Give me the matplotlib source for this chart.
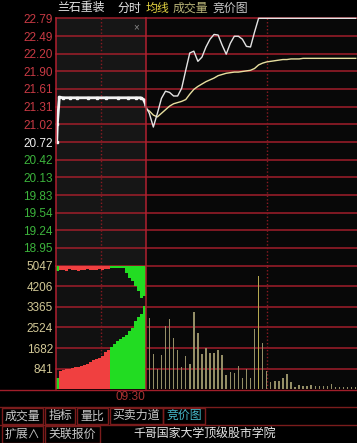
import matplotlib
matplotlib.use('Agg')
import matplotlib.pyplot as plt
from matplotlib.patches import Rectangle
from matplotlib.lines import Line2D

W, H = 357, 443
CJK = ['Noto Sans CJK SC', 'DejaVu Sans']
NUM = ['Liberation Sans', 'DejaVu Sans']
plt.rcParams['font.family'] = NUM

# ---------------- data ----------------
stock_name = '兰石重装'
prev_close = 20.72
price_ticks = [22.79, 22.49, 22.20, 21.90, 21.61, 21.31, 21.02, 20.72,
               20.42, 20.13, 19.83, 19.54, 19.24, 18.95]
price_lo, price_hi = 18.65, 22.79
vol_ticks = [5047, 4206, 3365, 2524, 1682, 841]
vol_hi = 5047

# call auction 9:15-9:25 (minutes after 9:15)
auc_t = [0.08, 0.15, 0.37, 0.8, 1.5, 2.3, 3.6, 4.5, 5.6, 6.9, 8.0, 8.9, 9.4, 9.75, 10.0]
auc_price = [20.72, 21.02, 21.47, 21.46, 21.46, 21.46, 21.46, 21.46, 21.46,
             21.46, 21.46, 21.46, 21.46, 21.43, 21.33]
auc_matched = [450, 760, 800, 840, 840, 880, 900, 920, 960, 1000, 1050, 1130,
               1190, 1250, 1290, 1370, 1500, 1620, 1740, 1860, 1970, 2070,
               2150, 2230, 2360, 2520, 2770, 2970, 3090, 3380]
auc_unmatched = [200, 180, 160, 200, 150, 190, 170, 200, 160, 180, 150, 190,
                 170, 160, 140, 180, 150, 130, 100, 90, 90, 100, 100, 300,
                 500, 640, 850, 1050, 1340, 1250]
auc_side = [-1, 1, 1, 1, 1, 1, 1, 1, 1, 1, 1, 1, 1, 1, 1, 1, 1, 1,
            -1, -1, -1, -1, -1, -1, -1, -1, -1, -1, -1, -1]

# continuous trading, minutes after 9:30
minutes = list(range(53))
price = [21.33, 21.20, 20.97, 21.20, 21.45, 21.57, 21.55, 21.49, 21.49, 21.62,
         21.92, 22.21, 22.24, 22.07, 22.14, 22.31, 22.44, 22.52, 22.51, 22.34,
         22.19, 22.37, 22.49, 22.49, 22.44, 22.32, 22.31, 22.56] + [22.79] * 25
avg_price = [21.28, 21.24, 21.17, 21.14, 21.20, 21.26, 21.32, 21.36, 21.38, 21.40,
             21.43, 21.52, 21.60, 21.65, 21.69, 21.73, 21.76, 21.79, 21.83, 21.85,
             21.87, 21.88, 21.89, 21.89, 21.90, 21.91, 21.92, 21.95, 22.01, 22.04,
             22.06, 22.07, 22.08, 22.09, 22.10, 22.10, 22.11, 22.11, 22.11] + [22.12] * 14
vol_minutes = list(range(1, 53))
volume = [2910, 1442, 843, 1414, 2584, 2870, 2081, 1591, 911, 1360, 1034, 3142,
          2285, 1442, 1700, 1469, 1469, 1591, 1414, 598, 694, 653, 938, 449,
          830, 449, 2448, 4624, 1904, 734, 299, 340, 340, 449, 626, 286, 109,
          163, 136, 136, 163, 122, 122, 122, 150, 204, 82, 82, 82, 82, 82, 82]

header_items = [('兰石重装', '#e6e6e6'), ('分时', '#e6e6e6'), ('均线', '#e0d040'),
                ('成交量', '#b8b478'), ('竞价图', '#c8c8c8')]
buttons_row1 = ['成交量', '指标', '量比', '买卖力道', '竞价图']
buttons_row2 = ['扩展∧', '关联报价']
footer_text = '千哥国家大学顶级股市学院'

# ---------------- style ----------------
GRID = '#a01e2a'
DOT = '#8a1a22'
FRAME = '#b02030'
UI = '#7a1c1c'
RED = '#f04040'
GREEN = '#22dc22'
BAR = '#948e66'
BAR_HI = '#b4a850'

fig = plt.figure(figsize=(W / 100, H / 100), dpi=100)
fig.patch.set_facecolor('black')


def rect(x0, y0, x1, y1):
    return [x0 / W, 1 - y1 / H, (x1 - x0) / W, (y1 - y0) / H]


def fx(px):
    return px / W


def fy(py):
    return 1 - py / H


XL, XS, XR = 56, 146, 357
YT, YM, YB = 18.3, 265.7, 389.2

ax_ap = fig.add_axes(rect(XL, YT, XS, YM))
ax_p = fig.add_axes(rect(XS, YT, XR, YM))
ax_av = fig.add_axes(rect(XL, YM, XS, YB))
ax_v = fig.add_axes(rect(XS, YM, XR, YB))

ax_ap.set_facecolor('#161616')
ax_av.set_facecolor('#111111')
for ax in (ax_ap, ax_av):
    ax.set_xlim(0, 10)
for ax in (ax_p, ax_v):
    ax.set_facecolor('#080808')
    ax.set_xlim(0.185, 52.31)
for ax in (ax_ap, ax_p):
    ax.set_ylim(price_lo, price_hi)
    for p in price_ticks:
        ax.axhline(p, color=GRID, lw=1.1, zorder=1, clip_on=False)
for ax in (ax_av, ax_v):
    ax.set_ylim(0, vol_hi)
    for v in vol_ticks:
        ax.axhline(v, color=GRID, lw=1.1, zorder=1, clip_on=False)

for ax in (ax_ap, ax_p, ax_av, ax_v):
    ax.set_xticks([])
    for s in ('top', 'right', 'bottom'):
        ax.spines[s].set_visible(False)
    ax.spines['left'].set_color(FRAME)
    ax.spines['left'].set_linewidth(1.1)
    ax.spines['left'].set_zorder(6)
    ax.tick_params(axis='y', length=0)

for ax in (ax_p, ax_v):
    ax.set_yticks([])
# dotted time lines (9:20 and 10:00)
for ax in (ax_ap, ax_av):
    ax.axvline(5, color=DOT, lw=1.0, ls=(0, (1, 1.5)), zorder=1)
for ax in (ax_p, ax_v):
    ax.axvline(30, color=DOT, lw=1.0, ls=(0, (1, 1.5)), zorder=1)

# y labels
ax_ap.set_yticks(price_ticks)
ax_ap.set_yticklabels(['%.2f' % p for p in price_ticks])
ax_ap.tick_params(axis='y', pad=2.3, labelsize=8.5)
for lbl, p in zip(ax_ap.get_yticklabels(), price_ticks):
    if p > prev_close + 1e-9:
        lbl.set_color('#c83a44')
    elif p < prev_close - 1e-9:
        lbl.set_color('#3cb43c')
    else:
        lbl.set_color('#f0f0f0')
ax_av.set_yticks(vol_ticks)
ax_av.set_yticklabels([str(v) for v in vol_ticks])
ax_av.tick_params(axis='y', pad=2.3, labelsize=8.5, labelcolor='#d2c896')

# auction price
ax_ap.plot(auc_t, auc_price, color='#f4f4f4', lw=2.0, marker='s', ms=1.8,
           zorder=4, solid_joinstyle='round', clip_on=False)

# auction volume (matched from bottom, unmatched hanging from top)
n = len(auc_matched)
bw = 10 / n
auc_x = [(i + 0.5) * bw for i in range(n)]
cols = [RED if s > 0 else GREEN for s in auc_side]
ax_av.bar(auc_x, auc_matched, width=bw, color=cols, zorder=2, lw=0)
ax_av.bar(auc_x, auc_unmatched, width=bw,
          bottom=[vol_hi - u for u in auc_unmatched], color=cols, zorder=2, lw=0)

# main price + average
ax_p.plot(minutes, price, color='#e4e4e4', lw=1.0, zorder=4, clip_on=False)
ax_p.plot(minutes, avg_price, color='#e8e0a0', lw=1.0, zorder=3)

# main volume bars
limit = max(price)
bar_cols = []
for m in vol_minutes:
    hit = price[m] >= limit and price[m - 1] < limit
    bar_cols.append(BAR_HI if hit else BAR)
ax_v.bar(vol_minutes, volume, width=0.36, color=bar_cols, zorder=2, lw=0)

# ---------------- chrome / text ----------------
def hline(py, x0=0, x1=W, color=UI, lw=1.0):
    fig.add_artist(Line2D([fx(x0), fx(x1)], [fy(py), fy(py)], color=color, lw=lw))


hline(389.8, color=GRID, lw=1.0)
hline(407)
hline(424.5)

# header
hx = [57, 118, 146, 173, 213]
for (txt, c), x in zip(header_items, hx):
    fig.text(fx(x), fy(8), txt, color=c, fontsize=8.6, family=CJK,
             ha='left', va='center')
fig.text(fx(136), fy(27.5), '×', color='#8a8a8a', fontsize=7, ha='center',
         va='center')

fig.text(fx(145), fy(397.5), '09:30', color='#a83232', fontsize=8.6,
         ha='right', va='center')

row1_x = [(2, 43), (45, 75), (77, 108), (110, 163), (163, 205)]
for (x0, x1), txt in zip(row1_x, buttons_row1):
    fig.add_artist(Rectangle((fx(x0), fy(423.5)), fx(x1) - fx(x0),
                             fy(408) - fy(423.5), fill=False, ec=UI, lw=1.0))
    c = '#46b8c8' if txt == '竞价图' else '#c8c8c8'
    fig.text(fx((x0 + x1) / 2), fy(415.8), txt, color=c, fontsize=8.6,
             family=CJK, ha='center', va='center')
row2_x = [(2, 43), (45, 100)]
for (x0, x1), txt in zip(row2_x, buttons_row2):
    fig.add_artist(Rectangle((fx(x0), fy(442.5)), fx(x1) - fx(x0),
                             fy(425.5) - fy(442.5), fill=False, ec=UI, lw=1.0))
    fig.text(fx((x0 + x1) / 2), fy(434), txt, color='#c8c8c8', fontsize=8.6,
             family=CJK, ha='center', va='center')
fig.text(fx(205), fy(434), footer_text, color='#e6e6e6', fontsize=8.6,
         family=CJK, ha='center', va='center')

fig.savefig('out.png', dpi=100, facecolor='black')
